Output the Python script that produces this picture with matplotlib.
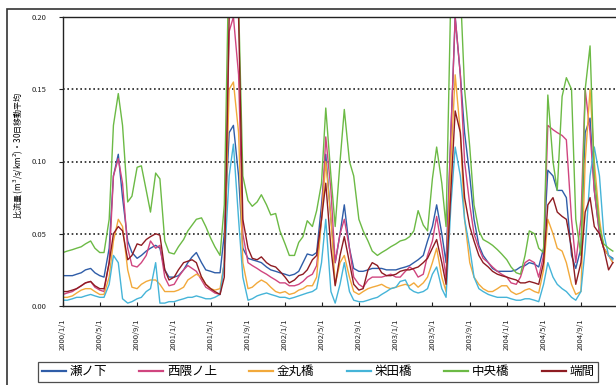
import matplotlib
matplotlib.use("Agg")
import matplotlib.pyplot as plt
from matplotlib.patches import Rectangle
import pandas as pd

plt.rcParams["font.family"] = ["Noto Sans CJK JP", "DejaVu Sans"]

# semi-monthly samples of the 30-day moving average, 2000/1 - 2004/12
dates = pd.date_range("2000-01-01", "2004-12-15", freq="SMS")

names = ["瀬ノ下", "西隈ノ上", "金丸橋", "栄田橋", "中央橋", "端間"]
colors = ["#2F5DA8", "#D0457F", "#F2A93B", "#45B4D8", "#6CBA45", "#8E1C22"]

senoshita = [
    0.021, 0.021, 0.021, 0.022, 0.023, 0.025, 0.026, 0.023, 0.021, 0.020, 0.040, 0.090,
    0.105, 0.075, 0.045, 0.037, 0.033, 0.035, 0.038, 0.040, 0.042, 0.040, 0.025, 0.020,
    0.020, 0.021, 0.025, 0.030, 0.034, 0.037, 0.030, 0.025, 0.024, 0.023, 0.023, 0.050,
    0.120, 0.125, 0.090, 0.040, 0.033, 0.032, 0.031, 0.030, 0.027, 0.025, 0.024, 0.023,
    0.022, 0.021, 0.022, 0.024, 0.030, 0.036, 0.035, 0.037, 0.070, 0.105, 0.060, 0.030,
    0.050, 0.070, 0.040, 0.026, 0.024, 0.024, 0.025, 0.026, 0.026, 0.026, 0.025, 0.025,
    0.025, 0.026, 0.027, 0.028, 0.030, 0.032, 0.035, 0.045, 0.055, 0.070, 0.050, 0.030,
    0.120, 0.200, 0.160, 0.120, 0.090, 0.060, 0.042, 0.035, 0.030, 0.026, 0.024, 0.024,
    0.024, 0.024, 0.025, 0.027, 0.028, 0.030, 0.029, 0.027, 0.040, 0.094, 0.090, 0.080,
    0.080, 0.075, 0.035, 0.026, 0.040, 0.120, 0.130, 0.080, 0.050, 0.040, 0.035, 0.033,
]
nishikumanoue = [
    0.008, 0.009, 0.010, 0.012, 0.014, 0.016, 0.017, 0.013, 0.011, 0.010, 0.030, 0.090,
    0.102, 0.085, 0.040, 0.028, 0.027, 0.030, 0.035, 0.045, 0.040, 0.042, 0.020, 0.014,
    0.015, 0.020, 0.025, 0.028, 0.026, 0.024, 0.018, 0.013, 0.011, 0.009, 0.008, 0.030,
    0.190, 0.200, 0.160, 0.050, 0.030, 0.028, 0.026, 0.024, 0.022, 0.020, 0.018, 0.016,
    0.016, 0.014, 0.014, 0.015, 0.017, 0.020, 0.022, 0.028, 0.060, 0.117, 0.080, 0.030,
    0.050, 0.060, 0.040, 0.020, 0.015, 0.013, 0.018, 0.020, 0.020, 0.020, 0.021, 0.022,
    0.020, 0.020, 0.024, 0.027, 0.025, 0.020, 0.022, 0.035, 0.045, 0.062, 0.040, 0.020,
    0.120, 0.200, 0.160, 0.100, 0.070, 0.050, 0.040, 0.033, 0.030, 0.027, 0.024, 0.022,
    0.020, 0.016, 0.015, 0.020, 0.030, 0.032, 0.030, 0.020, 0.035, 0.125, 0.122, 0.120,
    0.118, 0.115, 0.060, 0.030, 0.060, 0.150, 0.120, 0.080, 0.050, 0.040, 0.035, 0.030,
]
kanamarubashi = [
    0.006, 0.006, 0.007, 0.009, 0.011, 0.012, 0.012, 0.010, 0.008, 0.008, 0.020, 0.045,
    0.060, 0.055, 0.025, 0.013, 0.012, 0.015, 0.017, 0.018, 0.018, 0.015, 0.010, 0.010,
    0.010, 0.011, 0.013, 0.018, 0.020, 0.022, 0.020, 0.015, 0.012, 0.011, 0.012, 0.030,
    0.150, 0.155, 0.120, 0.030, 0.012, 0.013, 0.016, 0.018, 0.016, 0.013, 0.010, 0.009,
    0.010, 0.008, 0.009, 0.011, 0.012, 0.014, 0.014, 0.020, 0.060, 0.100, 0.060, 0.015,
    0.030, 0.035, 0.020, 0.010, 0.008, 0.010, 0.012, 0.013, 0.014, 0.015, 0.013, 0.012,
    0.013, 0.014, 0.015, 0.014, 0.016, 0.013, 0.016, 0.020, 0.030, 0.040, 0.020, 0.010,
    0.100, 0.160, 0.120, 0.060, 0.030, 0.020, 0.015, 0.012, 0.010, 0.010, 0.012, 0.014,
    0.014, 0.010, 0.008, 0.009, 0.011, 0.012, 0.010, 0.009, 0.025, 0.060, 0.050, 0.040,
    0.038, 0.030, 0.015, 0.008, 0.010, 0.100, 0.150, 0.100, 0.060, 0.040, 0.035, 0.030,
]
eidabashi = [
    0.004, 0.004, 0.005, 0.006, 0.006, 0.007, 0.008, 0.007, 0.006, 0.006, 0.015, 0.035,
    0.030, 0.005, 0.002, 0.003, 0.005, 0.006, 0.010, 0.012, 0.030, 0.002, 0.002, 0.003,
    0.003, 0.004, 0.005, 0.006, 0.006, 0.007, 0.006, 0.005, 0.005, 0.006, 0.008, 0.030,
    0.090, 0.112, 0.060, 0.020, 0.004, 0.005, 0.007, 0.008, 0.009, 0.008, 0.007, 0.006,
    0.006, 0.005, 0.006, 0.007, 0.008, 0.009, 0.010, 0.012, 0.030, 0.060, 0.010, 0.002,
    0.015, 0.030, 0.010, 0.004, 0.003, 0.003, 0.004, 0.005, 0.006, 0.008, 0.010, 0.012,
    0.013, 0.017, 0.018, 0.012, 0.010, 0.009, 0.010, 0.012, 0.022, 0.027, 0.012, 0.006,
    0.070, 0.110, 0.090, 0.060, 0.040, 0.020, 0.012, 0.010, 0.008, 0.007, 0.006, 0.006,
    0.006, 0.005, 0.004, 0.004, 0.005, 0.005, 0.004, 0.003, 0.015, 0.030, 0.020, 0.015,
    0.012, 0.010, 0.006, 0.004, 0.010, 0.040, 0.090, 0.110, 0.090, 0.050, 0.035, 0.032,
]
chuobashi = [
    0.037, 0.038, 0.039, 0.040, 0.041, 0.043, 0.045, 0.040, 0.037, 0.037, 0.060, 0.125,
    0.147, 0.125, 0.072, 0.076, 0.096, 0.097, 0.080, 0.065, 0.092, 0.088, 0.045, 0.037,
    0.036, 0.041, 0.046, 0.052, 0.056, 0.060, 0.061, 0.055, 0.047, 0.041, 0.035, 0.070,
    0.250, 0.250, 0.210, 0.090, 0.073, 0.069, 0.072, 0.077, 0.070, 0.063, 0.064, 0.052,
    0.043, 0.035, 0.035, 0.044, 0.048, 0.059, 0.055, 0.066, 0.085, 0.137, 0.090, 0.055,
    0.100, 0.136, 0.100, 0.090, 0.060, 0.052, 0.045, 0.038, 0.035, 0.037, 0.039, 0.041,
    0.043, 0.045, 0.046, 0.048, 0.052, 0.066, 0.056, 0.052, 0.088, 0.110, 0.085, 0.055,
    0.220, 0.250, 0.220, 0.150, 0.110, 0.070, 0.052, 0.046, 0.044, 0.042, 0.039, 0.036,
    0.032, 0.027, 0.023, 0.022, 0.035, 0.052, 0.050, 0.040, 0.037, 0.146, 0.100, 0.080,
    0.145, 0.158, 0.150, 0.060, 0.035, 0.150, 0.180, 0.090, 0.055, 0.043, 0.040, 0.038,
]
hashima = [
    0.010, 0.010, 0.011, 0.012, 0.014, 0.016, 0.017, 0.014, 0.012, 0.012, 0.030, 0.050,
    0.055, 0.052, 0.032, 0.035, 0.043, 0.042, 0.046, 0.048, 0.050, 0.049, 0.025, 0.018,
    0.020, 0.025, 0.030, 0.031, 0.032, 0.030, 0.020, 0.015, 0.012, 0.010, 0.008, 0.020,
    0.200, 0.250, 0.200, 0.060, 0.040, 0.033, 0.032, 0.034, 0.030, 0.028, 0.027, 0.024,
    0.020, 0.016, 0.018, 0.021, 0.022, 0.025, 0.032, 0.035, 0.060, 0.085, 0.040, 0.014,
    0.035, 0.048, 0.030, 0.015, 0.011, 0.012, 0.025, 0.030, 0.028, 0.023, 0.021, 0.021,
    0.022, 0.024, 0.025, 0.025, 0.026, 0.027, 0.030, 0.033, 0.040, 0.046, 0.030, 0.015,
    0.080, 0.135, 0.120, 0.075, 0.055, 0.045, 0.035, 0.030, 0.027, 0.024, 0.022, 0.021,
    0.020, 0.019, 0.018, 0.016, 0.016, 0.017, 0.016, 0.015, 0.030, 0.070, 0.075, 0.065,
    0.062, 0.060, 0.040, 0.015, 0.030, 0.065, 0.075, 0.055, 0.050, 0.040, 0.025, 0.030,
]
series = [senoshita, nishikumanoue, kanamarubashi, eidabashi, chuobashi, hashima]

tick_dates = pd.date_range("2000-01-01", "2004-09-01", freq="4MS")
tick_labels = [f"{d.year}/{d.month}/1" for d in tick_dates]

W, H = 616, 385
fig = plt.figure(figsize=(W / 100, H / 100), dpi=100)

# outer chart frame
fig.patches.append(Rectangle((7 / W, -0.05), 1.1, (H - 9) / H + 0.05,
                             transform=fig.transFigure, fill=False,
                             edgecolor="#333333", linewidth=1.2))

ax = fig.add_axes([63 / W, 1 - 306 / H, (618 - 63) / W, (306 - 17) / H])
for vals, name, c in zip(series, names, colors):
    ax.plot(dates, vals, color=c, linewidth=1.0, label=name)

ax.set_ylim(0, 0.20)
ax.set_xlim(pd.Timestamp("2000-01-01"), pd.Timestamp("2005-01-01"))
ax.set_yticks([0, 0.05, 0.10, 0.15, 0.20])
ax.set_yticklabels(["0.00", "0.05", "0.10", "0.15", "0.20"], fontsize=5.5)
ax.set_xticks(tick_dates)
ax.set_xticklabels(tick_labels, rotation=90, fontsize=5.5)
ax.tick_params(axis="y", direction="out", length=3, width=0.8, pad=9, colors="#222222")
ax.tick_params(axis="x", direction="in", length=3, width=0.8, pad=9, colors="#222222")
for sp in ax.spines.values():
    sp.set_color("#222222")
    sp.set_linewidth(1.0)
ax.spines["right"].set_visible(False)

for yv in (0.05, 0.10, 0.15):
    ax.axhline(yv, color="#222222", linestyle=(0, (1, 1.6)), linewidth=1.2, zorder=0.5)

fig.text(18 / W, 1 - 155 / H, "比流量 (m$^3$/s/km$^2$)・30日移動平均",
         rotation=90, ha="center", va="center", fontsize=5.8)

leg = fig.legend(loc="lower left", bbox_to_anchor=(38 / W, 1 - 382 / H, (598 - 38) / W, 24 / H),
                 ncol=6, mode="expand", fontsize=9, frameon=True, fancybox=False,
                 handlelength=1.9, handletextpad=0.3, borderpad=0.3, borderaxespad=0)
leg.get_frame().set_edgecolor("#222222")
leg.get_frame().set_linewidth(0.9)
for line in leg.get_lines():
    line.set_linewidth(1.6)

fig.savefig("out.png", dpi=100)
